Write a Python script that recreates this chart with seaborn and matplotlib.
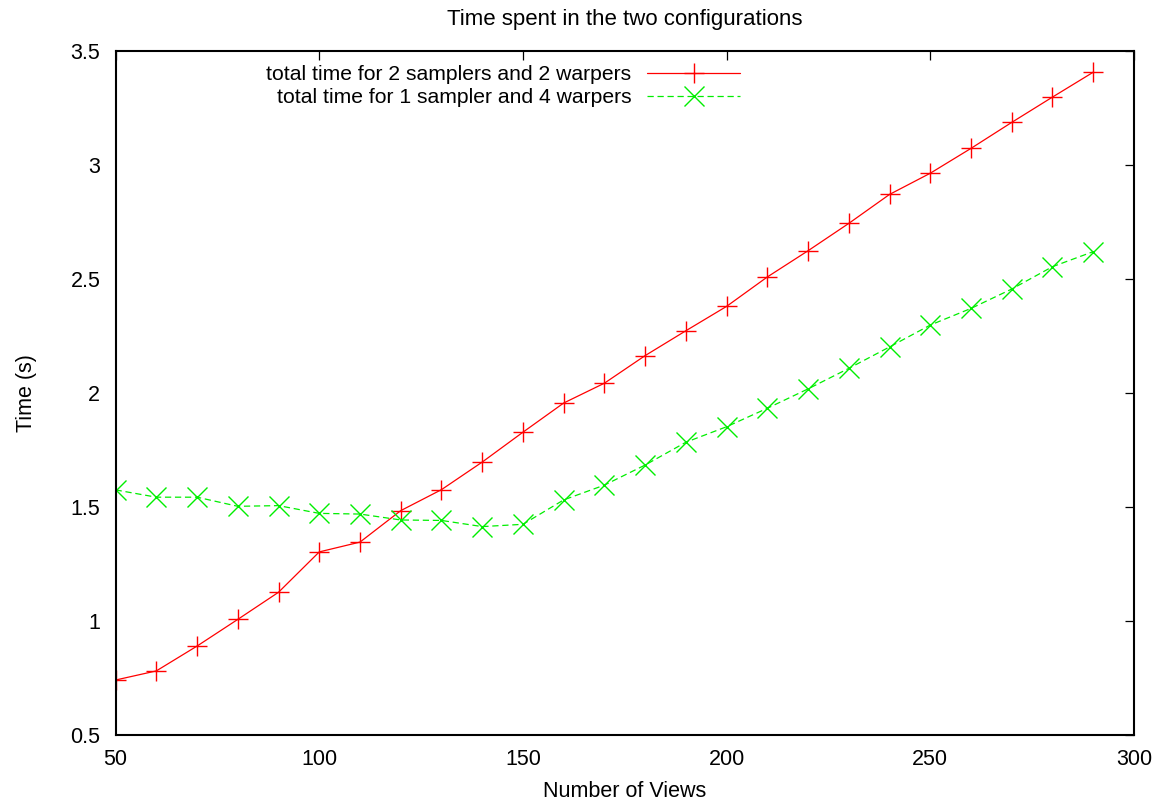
import pandas as pd
import matplotlib.pyplot as plt
import seaborn as sns

sns.set_theme(style="white")
plt.rcParams['font.family'] = ['Liberation Sans', 'DejaVu Sans']
plt.rcParams['text.color'] = 'black'
plt.rcParams['axes.labelcolor'] = 'black'

# data
views = [50, 60, 70, 80, 90, 100, 110, 120, 130, 140, 150, 160, 170, 180, 190,
         200, 210, 220, 230, 240, 250, 260, 270, 280, 290]
time_2s_2w = [0.741, 0.781, 0.890, 1.007, 1.126, 1.303, 1.346, 1.484, 1.576, 1.697,
              1.828, 1.956, 2.043, 2.164, 2.273, 2.380, 2.509, 2.624, 2.744, 2.871,
              2.964, 3.073, 3.187, 3.298, 3.407]
time_1s_4w = [1.575, 1.543, 1.543, 1.503, 1.506, 1.472, 1.469, 1.443, 1.441, 1.414,
              1.424, 1.531, 1.596, 1.684, 1.784, 1.852, 1.933, 2.018, 2.108, 2.202,
              2.298, 2.371, 2.456, 2.554, 2.620]

label_a = "total time for 2 samplers and 2 warpers"
label_b = "total time for 1 sampler and 4 warpers"

df = pd.DataFrame({"views": views, "a": time_2s_2w, "b": time_1s_4w})

FS = 15.5
RED = "#ff0000"
GREEN = "#00ee00"

fig = plt.figure(figsize=(11.63, 8.05), dpi=100)
ax = fig.add_axes([0.0994, 0.087, 0.8756, 0.8496])

sns.lineplot(data=df, x="views", y="a", ax=ax, color=RED, lw=0.9,
             marker="+", markersize=15, markeredgewidth=1.0,
             markeredgecolor=RED, label=label_a)
sns.lineplot(data=df, x="views", y="b", ax=ax, color=GREEN, lw=0.9,
             linestyle=(0, (5, 3)), marker="x", markersize=15,
             markeredgewidth=1.0, markeredgecolor=GREEN, label=label_b)

ax.set_xlim(50, 300)
ax.set_ylim(0.5, 3.5)
ax.set_xticks(range(50, 301, 50))
ax.set_yticks([0.5, 1, 1.5, 2, 2.5, 3, 3.5])
ax.set_yticklabels(["0.5", "1", "1.5", "2", "2.5", "3", "3.5"])
ax.tick_params(direction="in", length=6.5, width=0.9, top=True, right=True,
               labelsize=FS, colors="black")
ax.tick_params(axis="y", pad=11)
ax.tick_params(axis="x", pad=10)
for s in ax.spines.values():
    s.set_color("black")
    s.set_linewidth(1.5)

ax.set_title("Time spent in the two configurations", fontsize=16, pad=19)
ax.set_xlabel("Number of Views", fontsize=FS, labelpad=8)
ax.set_ylabel("Time (s)", fontsize=FS, labelpad=24)

ax.legend(loc="upper right", bbox_to_anchor=(0.63, 1.004), frameon=False,
          markerfirst=False, fontsize=15.2, handlelength=4.4, handletextpad=0.75,
          labelspacing=0.2, borderpad=0.3)

fig.savefig("out.png", dpi=100)
